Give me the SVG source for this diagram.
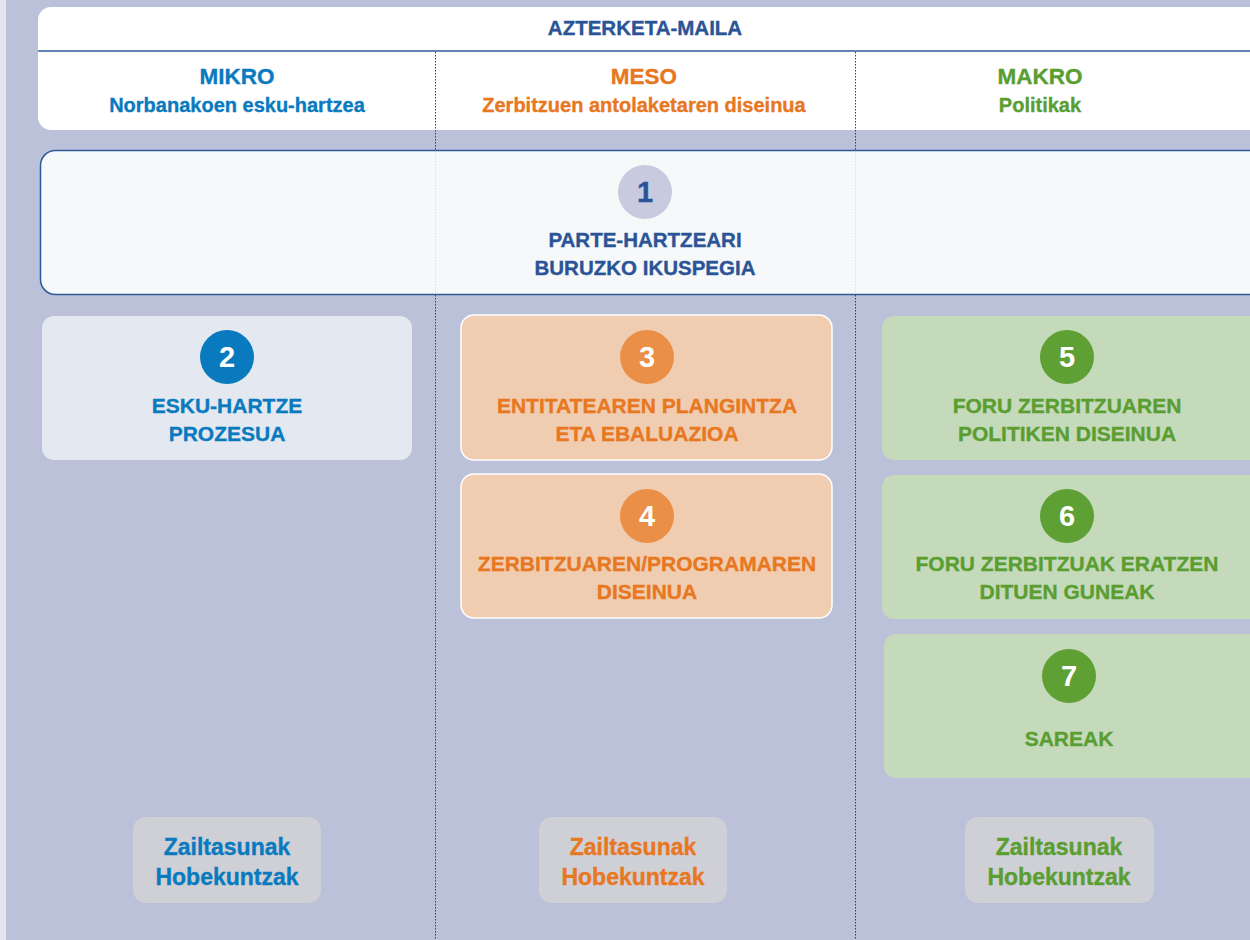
<svg xmlns="http://www.w3.org/2000/svg" width="1250" height="940" viewBox="0 0 1250 940">
<style>
text{font-family:"Liberation Sans",Arial,sans-serif;font-weight:bold;text-anchor:middle;stroke-width:0.35}
.t{font-size:21px}
.h{font-size:22.5px}
.s{font-size:20px}
.b{font-size:23px}
.n{font-size:29px;fill:#fff}
.db{fill:#2a5496;stroke:#2a5496}
.bl{fill:#0a7abf;stroke:#0a7abf}
.or{fill:#e87722;stroke:#e87722}
.gr{fill:#5a9e32;stroke:#5a9e32}
.cb{fill:#0a7abf}
.co{fill:#ea8f47}
.cg{fill:#5fa035}
.org{fill:#f0cdb0;stroke:#fff;stroke-width:1.5}
.grn{fill:#c5d9bb}
.bot{fill:#cfd0d6}
.dv{stroke:#3a3d4a;stroke-width:1;stroke-dasharray:1.5,1.5}
</style>
<rect x="0" y="0" width="1250" height="940" fill="#bcc1da"/>
<rect x="0" y="0" width="6" height="940" fill="#e4e5f0"/>
<g id="header">
<rect x="38" y="7" width="1230" height="123" rx="13" fill="#fff"/>
<line x1="38" y1="51" x2="1250" y2="51" stroke="#2d5a9a" stroke-width="1.5"/>
<text x="645" y="35" class="db" style="font-size:20.5px">AZTERKETA-MAILA</text>
<text x="237" y="84" class="h bl">MIKRO</text>
<text x="237" y="112" class="s bl">Norbanakoen esku-hartzea</text>
<text x="644" y="84" class="h or">MESO</text>
<text x="644" y="112" class="s or">Zerbitzuen antolaketaren diseinua</text>
<text x="1040" y="84" class="h gr">MAKRO</text>
<text x="1040" y="112" class="s gr">Politikak</text>
</g>
<g id="dividers">
<line x1="435.5" y1="52" x2="435.5" y2="940" class="dv"/>
<line x1="855.5" y1="52" x2="855.5" y2="940" class="dv"/>
</g>
<g id="node1">
<rect x="40.5" y="150.5" width="1225" height="144" rx="15" fill="#f7f8fa" stroke="#2d5a9a" stroke-width="1.5"/>
<line x1="435.5" y1="152" x2="435.5" y2="293" class="dv" opacity="0.12"/>
<line x1="855.5" y1="152" x2="855.5" y2="293" class="dv" opacity="0.12"/>
<circle cx="645" cy="192" r="27" fill="#c8cbe0"/>
<text x="645" y="202" class="n db">1</text>
<text x="645" y="247" class="db" style="font-size:20.5px">PARTE-HARTZEARI</text>
<text x="645" y="275" class="db" style="font-size:20.5px">BURUZKO IKUSPEGIA</text>
</g>
<g id="node2">
<rect x="42" y="316" width="370" height="144" rx="12" fill="#e4e9f1"/>
<circle cx="227" cy="357" r="27" class="cb"/>
<text x="227" y="367" class="n">2</text>
<text x="227" y="413" class="t bl">ESKU-HARTZE</text>
<text x="227" y="441" class="t bl">PROZESUA</text>
</g>
<g id="node3">
<rect x="461" y="315" width="371" height="145" rx="13" class="org"/>
<circle cx="647" cy="357" r="27" class="co"/>
<text x="647" y="367" class="n">3</text>
<text x="647" y="413" class="t or">ENTITATEAREN PLANGINTZA</text>
<text x="647" y="441" class="t or">ETA EBALUAZIOA</text>
</g>
<g id="node4">
<rect x="461" y="474" width="371" height="144" rx="13" class="org"/>
<circle cx="647" cy="516" r="27" class="co"/>
<text x="647" y="526" class="n">4</text>
<text x="647" y="571" class="t or">ZERBITZUAREN/PROGRAMAREN</text>
<text x="647" y="599" class="t or">DISEINUA</text>
</g>
<g id="node5">
<rect x="882" y="316" width="380" height="144" rx="12" class="grn"/>
<circle cx="1067" cy="357" r="27" class="cg"/>
<text x="1067" y="367" class="n">5</text>
<text x="1067" y="413" class="t gr">FORU ZERBITZUAREN</text>
<text x="1067" y="441" class="t gr">POLITIKEN DISEINUA</text>
</g>
<g id="node6">
<rect x="882" y="475" width="380" height="144" rx="12" class="grn"/>
<circle cx="1067" cy="516" r="27" class="cg"/>
<text x="1067" y="526" class="n">6</text>
<text x="1067" y="571" class="t gr">FORU ZERBITZUAK ERATZEN</text>
<text x="1067" y="599" class="t gr">DITUEN GUNEAK</text>
</g>
<g id="node7">
<rect x="884" y="634" width="378" height="144" rx="12" class="grn"/>
<circle cx="1069" cy="676" r="27" class="cg"/>
<text x="1069" y="686" class="n">7</text>
<text x="1069" y="746" class="t gr">SAREAK</text>
</g>
<g id="bottom1">
<rect x="133" y="817" width="188" height="86" rx="13" class="bot"/>
<text x="227" y="855" class="b bl">Zailtasunak</text>
<text x="227" y="885" class="b bl">Hobekuntzak</text>
</g>
<g id="bottom2">
<rect x="539" y="817" width="188" height="86" rx="13" class="bot"/>
<text x="633" y="855" class="b or">Zailtasunak</text>
<text x="633" y="885" class="b or">Hobekuntzak</text>
</g>
<g id="bottom3">
<rect x="965" y="817" width="189" height="86" rx="13" class="bot"/>
<text x="1059" y="855" class="b gr">Zailtasunak</text>
<text x="1059" y="885" class="b gr">Hobekuntzak</text>
</g>
</svg>
